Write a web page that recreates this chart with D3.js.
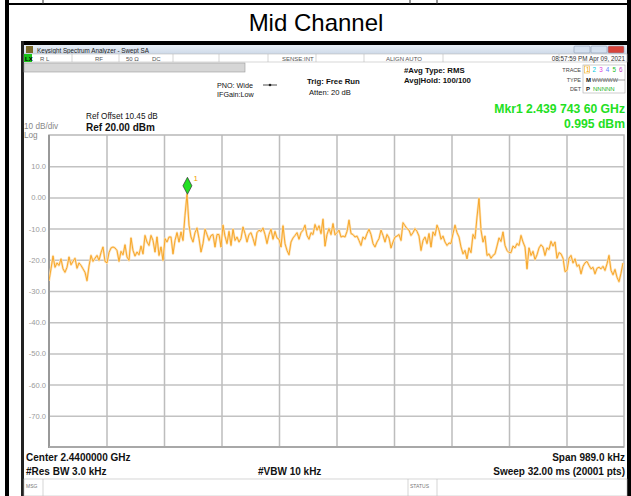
<!DOCTYPE html>
<html>
<head>
<meta charset="utf-8">
<script src="https://cdn.jsdelivr.net/npm/d3@7"></script>
<style>
  body { margin: 0; background: #fff; }
  svg { display: block; font-family: "Liberation Sans", Arial, sans-serif; }
</style>
</head>
<body>
<svg id="chart"></svg>
<script>
// sweep settings
var centerMHz = 2440.0;
var spanMHz = 0.989;
var stepMHz = 0.00344;   // spacing of the points
var refLevel = 20;       // dBm, top of grid
var bottomLevel = -80;

var markerMHz = 2439.7436;
var markerDbm = 0.995;

var yTicks = [10, 0, -10, -20, -30, -40, -50, -60, -70];
var yTickLabels = ["10.0", "0.00", "-10.0", "-20.0", "-30.0", "-40.0", "-50.0", "-60.0", "-70.0"];

// trace levels (dBm), left to right
var traceDbm = [
  -26.7, -22.9, -18.8, -22.4, -21, -21.8, -19.7, -22.9, -24, -22.4,
  -19.1, -21.6, -20.5, -19.5, -22.7, -21, -21.8, -22.9, -24, -26.7,
  -22, -18.6, -20.5, -19.5, -18.6, -20.2, -17.7, -15.9, -20.5, -21,
  -17.7, -16.2, -15.9, -16.2, -17, -20.5, -17.3, -18.4, -15.2, -19.1,
  -20.2, -13, -17, -18.8, -17.5, -18.4, -15.6, -18.1, -12.2,
  -14.3, -15.4, -12.2, -13.8, -17.5, -12.7, -18.6, -15.9, -20.2, -13.2,
  -14.3, -12.7, -12.7, -18.1, -13.8, -11.3, -14.3, -11.1, -13.8, -5.7,
  0.995, -8.9, -12.7, -14.3, -11.3, -9.8, -13.2, -17.5, -14.8, -10.2,
  -11.9, -13.8, -12.2, -11.9, -15.9, -11.9, -11.9, -15.9, -8.9, -12.4,
  -14.8, -10.9, -15.4, -10.2, -13.8, -12.7, -14.3,
  -13.2, -9.5, -11.6, -14.3, -11.9, -11.3, -13.2, -15.4, -11.3, -10.5,
  -10.9, -9.8, -11.9, -14.8, -11.9, -10.2, -13.4, -10.9, -13, -13.4,
  -15.9, -9.1, -14.8, -17, -18.4, -14.3, -13, -12.2, -11.3, -13.4,
  -11.3, -10.5, -8.9, -12.2, -13.4, -11.3, -11.9, -8.7, -10.5, -9.1,
  -11.6, -7, -15.6, -11.9, -10, -11.9, -8.4,
  -12,
  -11.3, -10.5, -12.7, -12.4, -12.7, -10.9, -7.3, -11.6, -11.9, -12.7,
  -12.4, -13.8, -15.4, -12.7, -13.4, -11.6, -10.2, -11.9, -14.8, -15.9,
  -14.3, -13.2, -10.5, -12.2, -14.3, -11.9, -13, -16.2, -14.3, -12.7,
  -12.4, -11.9, -13.8, -8.1, -9.1, -10, -10.5, -12.2, -11.3, -10,
  -10.9, -12.4, -17, -13.8, -12.7, -14.8, -11.6,
  -15.9, -11.1, -12.2, -8.9, -10.5, -13.4, -12.4, -14.3, -15.4, -14.6,
  -14.8, -11.6, -8.9, -11.3, -12.7, -15.9, -18.1, -17, -19.7, -16.2,
  -17.7, -11.9, -13.2, -6.3, -0.3, -10.5, -14.3, -12.4, -18.6, -18.1,
  -19.5, -18.6, -18.1, -15.6, -13, -14.1, -11.1, -15.4, -17, -17.7,
  -17.7, -15.6, -16.2, -14.8, -15.4, -12.2, -14.3,
  -15.9, -22.9, -16.2, -18.6, -17.3, -19.9, -18.4, -16.2, -15.2, -15.9,
  -18.6, -16.2, -16.7, -14.1, -15.6, -14.3, -19.5, -17.7, -18.1, -19.5,
  -23.8, -23.4, -19.5, -18.6, -21, -19.7, -22.1, -21.6, -24.5, -22.1,
  -21, -20.5, -21.8, -22.9, -22.4, -24.5, -22.7, -22.4, -22.9, -22.1,
  -23.4, -21.3, -18.6, -23.4, -24.8, -23.1, -25.6, -27, -24.3, -21
];

var W = 631, H = 496;
var plot = {left: 49, top: 135, right: 624, bottom: 447};
var startMHz = centerMHz - spanMHz / 2;
var stopMHz = centerMHz + spanMHz / 2;

var svg = d3.select("#chart").attr("width", W).attr("height", H);

var x = d3.scaleLinear().domain([startMHz, stopMHz]).range([plot.left, plot.right]);
var y = d3.scaleLinear().domain([bottomLevel, refLevel]).range([plot.bottom, plot.top]);

// ---- page frame ----
svg.append("rect").attr("width", W).attr("height", H).attr("fill", "#fff");
svg.append("rect").attr("x", 5).attr("y", 0).attr("width", 4).attr("height", H).attr("fill", "#000");
svg.append("rect").attr("x", 627).attr("y", 0).attr("width", 4).attr("height", H).attr("fill", "#000");
svg.append("rect").attr("x", 5).attr("y", 3).attr("width", 626).attr("height", 2).attr("fill", "#000");
[43, 410, 437].forEach(function(px) {
  svg.append("line").attr("x1", px).attr("x2", px).attr("y1", 0).attr("y2", 4)
     .attr("stroke", "#333").attr("stroke-width", 1);
});

svg.append("text").attr("x", 316).attr("y", 31).attr("text-anchor", "middle")
   .attr("font-size", 24).attr("fill", "#000").text("Mid Channel");

// ---- analyzer window ----
var win = svg.append("g");
win.append("rect").attr("x", 21).attr("y", 41).attr("width", 607).attr("height", 4).attr("fill", "#000");
win.append("rect").attr("x", 21).attr("y", 41).attr("width", 3).attr("height", 455).attr("fill", "#222");

var grad = svg.append("defs").append("linearGradient").attr("id", "tbar")
  .attr("x1", 0).attr("x2", 0).attr("y1", 0).attr("y2", 1);
grad.append("stop").attr("offset", "0%").attr("stop-color", "#e9eff7");
grad.append("stop").attr("offset", "100%").attr("stop-color", "#cdd9e8");
win.append("rect").attr("x", 24).attr("y", 45).attr("width", 603).attr("height", 9).attr("fill", "url(#tbar)");
win.append("rect").attr("x", 26).attr("y", 46).attr("width", 7).attr("height", 7).attr("fill", "#7a6a2a");
win.append("text").attr("x", 37).attr("y", 52.5).attr("font-size", 6.3).attr("fill", "#222")
   .text("Keysight Spectrum Analyzer - Swept SA");
[[574, "#d3dfee"], [591, "#d3dfee"], [608, "#d8433a"]].forEach(function(b) {
  win.append("rect").attr("x", b[0]).attr("y", 46).attr("width", 16).attr("height", 7).attr("rx", 1)
     .attr("fill", b[1]).attr("stroke", "#8a9bb3").attr("stroke-width", 0.6);
});

// status row
win.append("rect").attr("x", 24).attr("y", 54).attr("width", 603).attr("height", 8)
   .attr("fill", "#fff").attr("stroke", "#bbb").attr("stroke-width", 0.6);
win.append("rect").attr("x", 24).attr("y", 54).attr("width", 8).attr("height", 8).attr("fill", "#18c418");
win.append("text").attr("x", 25).attr("y", 60.5).attr("font-size", 6).attr("font-weight", "bold").text("LX");
[72, 119, 173, 219, 268, 316, 364, 443, 559].forEach(function(px) {
  win.append("line").attr("x1", px).attr("x2", px).attr("y1", 54).attr("y2", 62).attr("stroke", "#bbb").attr("stroke-width", 0.6);
});
var statusTexts = [[40, "R L"], [95, "RF"], [126, "50 \u03a9"], [152, "DC"], [282, "SENSE:INT"], [386, "ALIGN AUTO"]];
statusTexts.forEach(function(t) {
  win.append("text").attr("x", t[0]).attr("y", 60.5).attr("font-size", 6).attr("fill", "#555").text(t[1]);
});
win.append("text").attr("x", 625).attr("y", 60.5).attr("text-anchor", "end").attr("font-size", 6.3)
   .attr("fill", "#333").text("08:57:59 PM Apr 09, 2021");

// grey bar
win.append("rect").attr("x", 24).attr("y", 63).attr("width", 221).attr("height", 9)
   .attr("fill", "#d6d6d6").attr("stroke", "#999").attr("stroke-width", 0.6);

// settings block
function label(x0, y0, txt, size, opts) {
  opts = opts || {};
  return win.append("text").attr("x", x0).attr("y", y0).attr("font-size", size)
    .attr("font-weight", opts.bold ? "bold" : "normal")
    .attr("text-anchor", opts.anchor || "start")
    .attr("fill", opts.fill || "#111").text(txt);
}
label(217, 88, "PNO: Wide", 7.2);
label(217, 97, "IFGain:Low", 7.2);
win.append("line").attr("x1", 263).attr("x2", 277).attr("y1", 85).attr("y2", 85).attr("stroke", "#222").attr("stroke-width", 0.8);
win.append("circle").attr("cx", 270).attr("cy", 85).attr("r", 1.3).attr("fill", "#222");
label(307, 84, "Trig: Free Run", 7.8, {bold: true});
label(309, 95, "Atten: 20 dB", 7.6);
label(404, 73, "#Avg Type: RMS", 7.8, {bold: true});
label(404, 83, "Avg|Hold: 100/100", 7.8, {bold: true});

// trace table
label(581, 72, "TRACE", 5.5, {anchor: "end", fill: "#444"});
label(581, 82, "TYPE", 5.5, {anchor: "end", fill: "#444"});
label(581, 91, "DET", 5.5, {anchor: "end", fill: "#444"});
win.append("rect").attr("x", 583).attr("y", 65).attr("width", 42).attr("height", 28)
   .attr("fill", "none").attr("stroke", "#aaa").attr("stroke-width", 0.6);
var traceColors = ["#f0a000", "#00c8e0", "#e040e0", "#6080ff", "#20c020", "#c040c0"];
traceColors.forEach(function(c, i) {
  label(586 + i * 6.6, 72, String(i + 1), 6.3, {fill: c});
});
win.append("rect").attr("x", 584.5).attr("y", 66).attr("width", 5).attr("height", 7)
   .attr("fill", "none").attr("stroke", "#f0a000").attr("stroke-width", 0.5);
label(586, 82, "M", 6, {bold: true});
label(592, 82, "WWWWW", 5.5, {fill: "#666"});
win.append("line").attr("x1", 592).attr("x2", 625).attr("y1", 80).attr("y2", 80).attr("stroke", "#666").attr("stroke-width", 0.6);
label(586, 91, "P", 6, {bold: true});
label(593, 91, "NNNNN", 6, {fill: "#20b020"});

label(86, 119, "Ref Offset 10.45 dB", 8.2);
label(86, 131, "Ref 20.00 dBm", 10, {bold: true});
label(24, 129, "10 dB/div", 8.2, {fill: "#888"});
label(24, 137.5, "Log", 8.2, {fill: "#888"});

label(625, 113, "Mkr1 2.439 743 60 GHz", 12.2, {bold: true, anchor: "end", fill: "#22e022"});
label(625, 128, "0.995 dBm", 12.2, {bold: true, anchor: "end", fill: "#22e022"});

// ---- grid ----
var grid = svg.append("g");
grid.append("g")
  .attr("transform", "translate(" + plot.left + ",0)")
  .call(d3.axisLeft(y).tickValues(yTicks).tickSize(-(plot.right - plot.left))
        .tickFormat(function(d, i) { return yTickLabels[i]; }))
  .call(function(g) {
    g.select(".domain").remove();
    g.selectAll(".tick line").attr("stroke", "#c2c2c2").attr("stroke-width", 1.5);
    g.selectAll(".tick text").attr("x", -3).attr("fill", "#9a9a9a")
      .attr("font-size", 7.6).attr("font-family", "Liberation Sans, Arial, sans-serif");
  });

var xGrid = d3.range(1, 10).map(function(k) { return startMHz + k * spanMHz / 10; });
grid.append("g")
  .attr("transform", "translate(0," + plot.bottom + ")")
  .call(d3.axisBottom(x).tickValues(xGrid).tickSize(-(plot.bottom - plot.top)).tickFormat(""))
  .call(function(g) {
    g.select(".domain").remove();
    g.selectAll(".tick line").attr("stroke", "#bdbdbd").attr("stroke-width", 1.5);
  });

// plot border
grid.append("rect").attr("x", plot.left).attr("y", plot.top)
  .attr("width", plot.right - plot.left).attr("height", plot.bottom - plot.top)
  .attr("fill", "none").attr("stroke", "#b8b8b8").attr("stroke-width", 1.5);
grid.append("line").attr("x1", plot.left).attr("x2", plot.left).attr("y1", plot.top).attr("y2", plot.bottom + 1)
  .attr("stroke", "#999").attr("stroke-width", 2);
grid.append("line").attr("x1", plot.left).attr("x2", plot.right).attr("y1", plot.bottom).attr("y2", plot.bottom)
  .attr("stroke", "#a8a8a8").attr("stroke-width", 2);

// ---- trace ----
svg.append("clipPath").attr("id", "pclip").append("rect")
  .attr("x", plot.left).attr("y", plot.top)
  .attr("width", plot.right - plot.left).attr("height", plot.bottom - plot.top);

var pts = traceDbm.map(function(v, i) { return {f: startMHz + i * stepMHz, v: v}; });
var line = d3.line().x(function(d) { return x(d.f); }).y(function(d) { return y(d.v); });

var tg = svg.append("g").attr("clip-path", "url(#pclip)");
tg.append("path").datum(pts).attr("d", line).attr("fill", "none")
  .attr("stroke", "#fde0b4").attr("stroke-width", 2.4).attr("stroke-linejoin", "round");
tg.append("path").datum(pts).attr("d", line).attr("fill", "none")
  .attr("stroke", "#f6a21c").attr("stroke-width", 0.9).attr("stroke-linejoin", "round");

// ---- marker ----
var mx = x(markerMHz), my = y(markerDbm);
svg.append("path")
  .attr("d", "M" + mx + "," + (my - 17) + " L" + (mx + 4.5) + "," + (my - 8.5) +
             " L" + mx + "," + my + " L" + (mx - 4.5) + "," + (my - 8.5) + " Z")
  .attr("fill", "#22e022").attr("stroke", "#333").attr("stroke-width", 0.7);
svg.append("text").attr("x", mx + 6).attr("y", my - 13).attr("font-size", 8)
  .attr("fill", "#f0a000").text("1");

// ---- footer ----
label(26, 461, "Center 2.4400000 GHz", 10, {bold: true});
label(26, 475, "#Res BW 3.0 kHz", 10, {bold: true});
label(258, 475, "#VBW 10 kHz", 10, {bold: true});
label(625, 461, "Span 989.0 kHz", 10, {bold: true, anchor: "end"});
label(625, 475, "Sweep  32.00 ms (20001 pts)", 10, {bold: true, anchor: "end"});

win.append("rect").attr("x", 24).attr("y", 479).attr("width", 603).attr("height", 17)
   .attr("fill", "#fff").attr("stroke", "#bbb").attr("stroke-width", 0.6);
win.append("line").attr("x1", 43).attr("x2", 43).attr("y1", 479).attr("y2", 496).attr("stroke", "#bbb").attr("stroke-width", 0.6);
win.append("line").attr("x1", 408).attr("x2", 408).attr("y1", 479).attr("y2", 496).attr("stroke", "#bbb").attr("stroke-width", 0.6);
win.append("line").attr("x1", 437).attr("x2", 437).attr("y1", 479).attr("y2", 496).attr("stroke", "#bbb").attr("stroke-width", 0.6);
label(26, 488, "MSG", 5, {fill: "#777"});
label(410, 488, "STATUS", 5, {fill: "#777"});
</script>
</body>
</html>
